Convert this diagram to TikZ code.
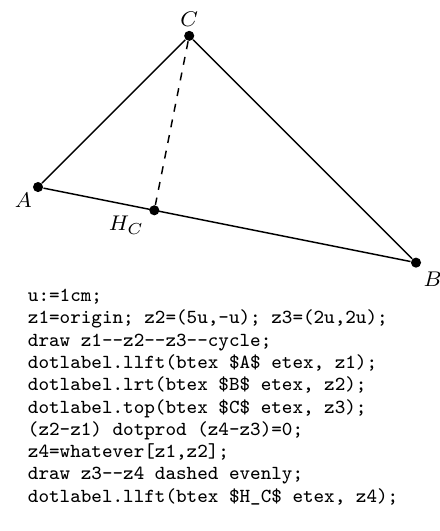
\documentclass[tikz,border=0pt]{standalone}
\usetikzlibrary{positioning, calc}
\tikzset{
  dotpt/.style={circle, fill=black, inner sep=0pt, minimum size=3.8pt},
  lbl/.style={inner sep=0pt, font=\fontsize{8.4}{10}\selectfont},
  side/.style={line width=0.55pt},
  foot/.style={line width=0.55pt, dash pattern=on 3pt off 3pt},
  listing/.style={inner sep=0pt, align=left, anchor=base west,
                  font=\fontsize{7.5}{8.4}\selectfont\ttfamily}
}
\begin{document}
\begin{tikzpicture}
  \useasboundingbox (-0.503,-4.550) rectangle (5.317,2.474);
  \node (A) [dotpt] at (0,0) {};
  \node (B) [dotpt] at (5,-1) {};
  \node (C) [dotpt] at (2,2) {};
  \node (H) [dotpt] at ($(A)!(C)!(B)$) {};
  \draw [side] (A) -- (B);
  \draw [side] (B) -- (C);
  \draw [side] (C) -- (A);
  \draw [foot] (C) -- (H);
  \node (lA) [lbl, below left=0.45pt and 0.7pt of A] {$A$};
  \node (lB) [lbl, below right=2pt and 1.2pt of B] {$B$};
  \node (lC) [lbl, above=1.1pt of C] {$C$};
  \node (lH) [lbl, below left=0.45pt and 2.2pt of H] {$H_C$};
  \node (code) [listing] at (-0.14,-4.17) {u:=1cm;\\
z1=origin; z2=(5u,-u); z3=(2u,2u);\\
draw z1-\kern0pt-z2-\kern0pt-z3-\kern0pt-cycle;\\
dotlabel.llft(btex \$A\$ etex, z1);\\
dotlabel.lrt(btex \$B\$ etex, z2);\\
dotlabel.top(btex \$C\$ etex, z3);\\
(z2-z1) dotprod (z4-z3)=0;\\
z4=whatever[z1,z2];\\
draw z3-\kern0pt-z4 dashed evenly;\\
dotlabel.llft(btex \$H\_C\$ etex, z4);};
\end{tikzpicture}
\end{document}
